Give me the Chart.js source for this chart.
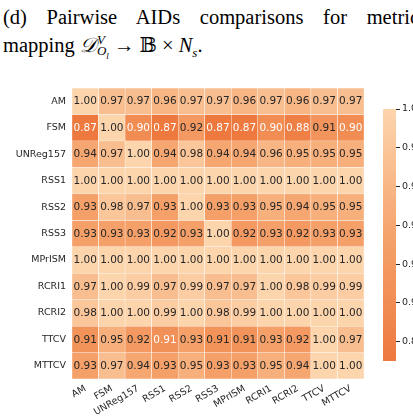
<!DOCTYPE html>
<html>
<head>
<meta charset="utf-8">
<script src="https://cdn.jsdelivr.net/npm/chart.js@4.4.0/dist/chart.umd.min.js"></script>
<style>
  body { margin: 0; width: 413px; height: 419px; overflow: hidden; position: relative; background: #fff; }
  .title { position: absolute; left: 3px; font-family: "Liberation Serif", "DejaVu Serif", serif; font-size: 20.5px; color: #000; }
  #t1 { top: 6px; width: 424px; text-align: justify; text-align-last: justify; }
  #t2 { top: 33px; white-space: nowrap; }
  .ss { display: inline-block; vertical-align: middle; line-height: 11px; font-size: 13px; font-style: italic; margin-left: 1px; }
  .ss span { display: block; }
  .cal { font-family: "DejaVu Serif", serif; font-style: italic; }
  #heat { position: absolute; left: 0; top: 0; }
  #bar { position: absolute; left: 370px; top: 0; }
</style>
</head>
<body>
<div class="title" id="t1">(d) Pairwise AIDs comparisons for metrics</div>
<div class="title" id="t2">mapping <span class="cal">𝒟</span><span class="ss"><span>V</span><span>O<sub style="font-size:9px">l</sub></span></span> → 𝔹 × <i>N<sub style="font-size:13px">s</sub></i>.</div>
<canvas id="heat" width="413" height="419"></canvas>
<canvas id="bar" width="43" height="419"></canvas>
<script>
const rowLabels = ['AM', 'FSM', 'UNReg157', 'RSS1', 'RSS2', 'RSS3', 'MPrISM', 'RCRI1', 'RCRI2', 'TTCV', 'MTTCV'];
const colLabels = ['AM', 'FSM', 'UNReg157', 'RSS1', 'RSS2', 'RSS3', 'MPrISM', 'RCRI1', 'RCRI2', 'TTCV', 'MTTCV'];

const amRow     = [1.00, 0.97, 0.97, 0.96, 0.97, 0.97, 0.96, 0.97, 0.96, 0.97, 0.97];
const fsmRow    = [0.87, 1.00, 0.90, 0.87, 0.92, 0.87, 0.87, 0.90, 0.88, 0.912, 0.90];
const unregRow  = [0.94, 0.97, 1.00, 0.94, 0.98, 0.94, 0.94, 0.96, 0.95, 0.95, 0.95];
const rss1Row   = [1.00, 1.00, 1.00, 1.00, 1.00, 1.00, 1.00, 1.00, 1.00, 1.00, 1.00];
const rss2Row   = [0.93, 0.98, 0.97, 0.93, 1.00, 0.93, 0.93, 0.95, 0.94, 0.95, 0.95];
const rss3Row   = [0.93, 0.93, 0.93, 0.92, 0.93, 1.00, 0.92, 0.93, 0.92, 0.93, 0.93];
const mprismRow = [1.00, 1.00, 1.00, 1.00, 1.00, 1.00, 1.00, 1.00, 1.00, 1.00, 1.00];
const rcri1Row  = [0.97, 1.00, 0.99, 0.97, 0.99, 0.97, 0.97, 1.00, 0.98, 0.99, 0.99];
const rcri2Row  = [0.98, 1.00, 1.00, 0.99, 1.00, 0.98, 0.99, 1.00, 1.00, 1.00, 1.00];
const ttcvRow   = [0.91, 0.95, 0.92, 0.906, 0.93, 0.91, 0.91, 0.93, 0.92, 1.00, 0.97];
const mttcvRow  = [0.93, 0.97, 0.94, 0.93, 0.95, 0.93, 0.93, 0.95, 0.94, 1.00, 1.00];

const colorbarTicks = [0.88, 0.90, 0.92, 0.94, 0.96, 0.98, 1.00];

const matrix = [amRow, fsmRow, unregRow, rss1Row, rss2Row, rss3Row, mprismRow, rcri1Row, rcri2Row, ttcvRow, mttcvRow];
const allVals = matrix.flat();
const vmin = Math.min(...allVals);
const vmax = Math.max(...allVals);

// colour stops, low -> high
const stops = [[237, 121, 62], [245, 163, 108], [253, 213, 173]];
function cellColor(v) {
  let t = (v - vmin) / (vmax - vmin);
  t = Math.max(0, Math.min(1, t)) * (stops.length - 1);
  const i = Math.min(Math.floor(t), stops.length - 2);
  const f = t - i;
  const c = stops[i].map((a, k) => Math.round(a + (stops[i + 1][k] - a) * f));
  return 'rgb(' + c.join(',') + ')';
}

const tickFont = { family: 'DejaVu Sans', size: 9.5 };
const txtColor = '#262626';

const cellText = {
  id: 'cellText',
  afterDatasetsDraw(chart) {
    const ctx = chart.ctx;
    ctx.save();
    ctx.font = '10.5px "DejaVu Sans"';
    ctx.textAlign = 'center';
    ctx.textBaseline = 'middle';
    chart.data.datasets.forEach((ds, i) => {
      const meta = chart.getDatasetMeta(i);
      meta.data.forEach((bar, j) => {
        const v = ds.values[j];
        ctx.fillStyle = v < 0.908 ? '#ffffff' : txtColor;
        ctx.fillText(v.toFixed(2), bar.x, (bar.y + bar.base) / 2 + 0.5);
      });
    });
    ctx.restore();
  }
};

new Chart(document.getElementById('heat'), {
  type: 'bar',
  data: {
    labels: colLabels,
    datasets: matrix.map((row, i) => ({
      label: rowLabels[i],
      values: row,
      data: row.map(() => 1),
      backgroundColor: row.map(cellColor),
      borderColor: '#ffffff',
      borderWidth: 0.5,
      borderSkipped: false,
      barPercentage: 1,
      categoryPercentage: 1
    }))
  },
  options: {
    responsive: false,
    animation: false,
    layout: { padding: { left: 0, top: 88, right: 49, bottom: 0 } },
    plugins: { legend: { display: false }, tooltip: { enabled: false } },
    scales: {
      x: {
        stacked: true,
        grid: { display: false, drawTicks: false },
        border: { display: false },
        afterFit: s => { s.height = 40; },
        ticks: { font: tickFont, color: txtColor, minRotation: 30, maxRotation: 30, autoSkip: false, padding: 4 }
      },
      y: {
        stacked: true,
        reverse: true,
        min: 0,
        max: 11,
        grid: { display: false, drawTicks: false },
        border: { display: false },
        afterFit: s => { s.width = 72; },
        afterBuildTicks: s => { s.ticks = rowLabels.map((_, i) => ({ value: i + 0.5 })); },
        ticks: { font: tickFont, color: txtColor, padding: 6, autoSkip: false, callback: (v, i) => rowLabels[i] }
      }
    }
  },
  plugins: [cellText]
});

new Chart(document.getElementById('bar'), {
  type: 'bar',
  data: {
    labels: ['cb'],
    datasets: [{
      data: [[vmin, vmax]],
      borderWidth: 0,
      barPercentage: 1,
      categoryPercentage: 1,
      backgroundColor: c => {
        const ch = c.chart;
        if (!ch.chartArea) return stops[0];
        const ys = ch.scales.y;
        const g = ch.ctx.createLinearGradient(0, ys.getPixelForValue(vmin), 0, ys.getPixelForValue(vmax));
        for (let k = 0; k <= 20; k++) {
          g.addColorStop(k / 20, cellColor(vmin + (vmax - vmin) * k / 20));
        }
        return g;
      }
    }]
  },
  options: {
    responsive: false,
    animation: false,
    layout: { padding: { left: 13, top: 109, right: 0, bottom: 58 } },
    plugins: { legend: { display: false }, tooltip: { enabled: false } },
    scales: {
      x: { display: false },
      y: {
        position: 'right',
        min: vmin,
        max: vmax,
        grid: { drawOnChartArea: false, drawTicks: true, tickLength: 4, color: txtColor },
        border: { display: false },
        afterFit: s => { s.width = 17; },
        afterBuildTicks: s => { s.ticks = colorbarTicks.map(v => ({ value: v })); },
        ticks: { font: tickFont, color: txtColor, padding: 2, callback: v => v.toFixed(2) }
      }
    }
  }
});
</script>
</body>
</html>
